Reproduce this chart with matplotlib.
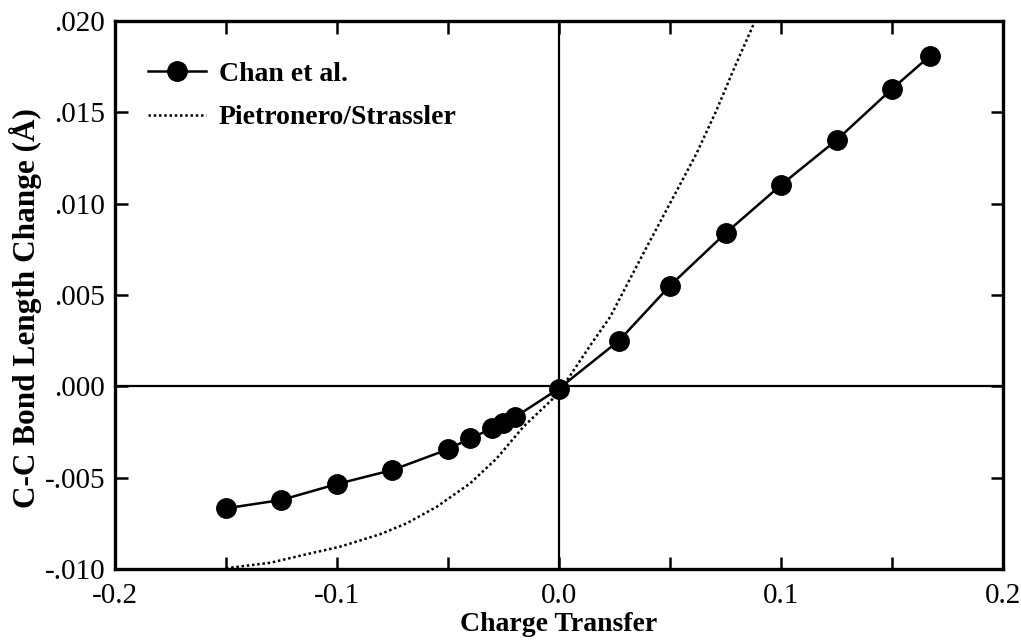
import matplotlib.pyplot as plt
import numpy as np
from matplotlib.ticker import MultipleLocator

# data
chan_x = [-0.15, -0.125, -0.10, -0.075, -0.05, -0.04, -0.03, -0.025, -0.02, 0.0,
          0.027, 0.05, 0.075, 0.10, 0.125, 0.15, 0.167]
chan_y = [-0.00668, -0.00622, -0.00535, -0.00458, -0.00345, -0.00285, -0.0023, -0.00199, -0.0017, -0.00012,
          0.0025, 0.00551, 0.00838, 0.01102, 0.01348, 0.01628, 0.01808]

ps_x = [-0.150, -0.148, -0.130, -0.115, -0.0986, -0.0806, -0.0686, -0.055, -0.040, -0.028, -0.016, -0.0026,
        0.0, 0.0042, 0.0147, 0.023, 0.038, 0.0508, 0.062, 0.071, 0.0785, 0.0875, 0.0885]
ps_y = [-0.00997, -0.00993, -0.00966, -0.00923, -0.00878, -0.0081, -0.0075, -0.00659, -0.00531, -0.00394, -0.00221, -0.00066,
        -0.0002, 0.00044, 0.00235, 0.00379, 0.00728, 0.0102, 0.01276, 0.01513, 0.0173, 0.01978, 0.0201]

xticks = [-0.2, -0.1, 0.0, 0.1, 0.2]
xticklabels = ["-0.2", "-0.1", "0.0", "0.1", "0.2"]
yticks = [-0.010, -0.005, 0.0, 0.005, 0.010, 0.015, 0.020]
yticklabels = ["-.010", "-.005", ".000", ".005", ".010", ".015", ".020"]

plt.rcParams['font.family'] = ['Liberation Serif', 'DejaVu Serif']

fig = plt.figure(figsize=(10.21, 6.44), dpi=100)
ax = fig.add_axes([0.1126, 0.1165, 0.8698, 0.8509])

ax.axhline(0, color="black", lw=1.6, zorder=1)
ax.axvline(0, color="black", lw=1.6, zorder=1)

ax.plot(chan_x, chan_y, color="black", lw=1.8, marker="o", markersize=14,
        label="Chan et al.", zorder=3)
ax.plot(ps_x, ps_y, color="black", lw=1.8, linestyle=(0, (1, 1.1)),
        label="Pietronero/Strassler", zorder=2)

ax.set_xlim(-0.2, 0.2)
ax.set_ylim(-0.010, 0.020)
ax.set_xticks(xticks)
ax.set_xticklabels(xticklabels)
ax.set_yticks(yticks)
ax.set_yticklabels(yticklabels)
ax.xaxis.set_minor_locator(MultipleLocator(0.05))

ax.tick_params(which="both", direction="in", top=True, right=True,
               length=9, width=1.8, labelsize=21)
ax.tick_params(axis="x", which="both", pad=10)
ax.tick_params(axis="y", which="both", pad=7)
for s in ax.spines.values():
    s.set_linewidth(2.4)

ax.set_xlabel("Charge Transfer", fontsize=20, fontweight="bold", labelpad=2)
ax.set_ylabel("C-C Bond Length Change (Å)", fontsize=22.5, fontweight="bold")
ax.yaxis.set_label_coords(-0.082, 0.476)

leg = ax.legend(loc="upper left", bbox_to_anchor=(0.009, 0.972), frameon=False,
                prop={"size": 20, "weight": "bold"}, handlelength=2.1,
                handletextpad=0.45, labelspacing=0.65)

fig.savefig("out.png", dpi=100)
